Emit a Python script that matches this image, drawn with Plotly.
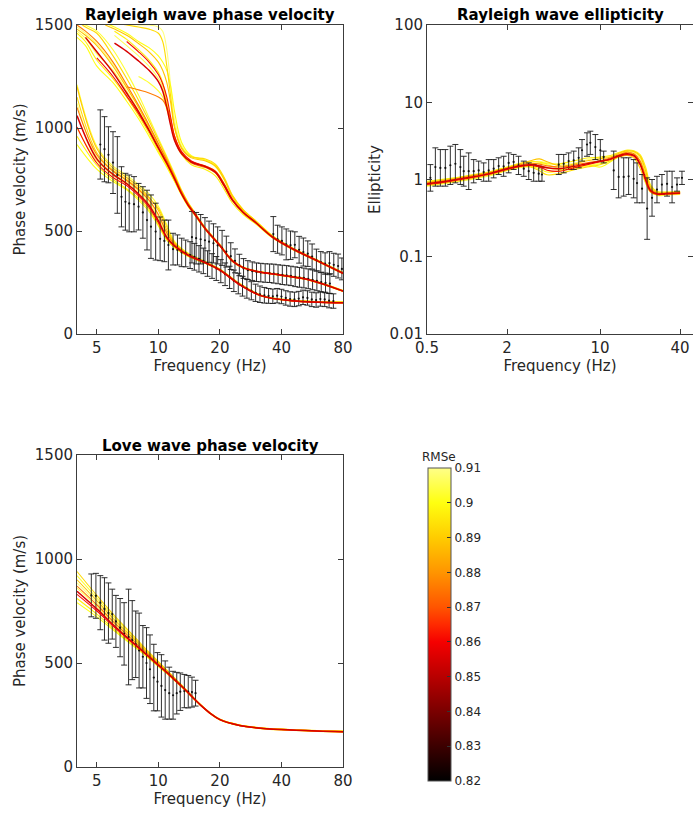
import numpy as np
import plotly.graph_objects as go
from plotly.colors import sample_colorscale

# ---------------------------------------------------------------------------
# Misfit of each inverted model (same order as the curve lists below)
MODEL_RMSE = [0.855, 0.862, 0.876, 0.889, 0.893, 0.897, 0.900, 0.903, 0.906, 0.909]

# Rayleigh fundamental mode: theoretical phase velocity (m/s)
F_FREQ = [4, 5, 6, 7, 8, 9, 10, 11, 12, 14, 17, 20, 25, 32, 45, 80]
F_CURVES = [
    [1060, 850, 775, 730, 680, 625, 550, 470, 428, 383, 346, 311, 240, 185, 162, 152],
    [1005, 830, 760, 720, 670, 615, 540, 465, 425, 380, 345, 308, 238, 184, 161, 151],
    [1100, 870, 790, 745, 700, 650, 580, 490, 435, 385, 348, 312, 242, 186, 163, 153],
    [1200, 900, 805, 760, 715, 665, 600, 505, 440, 388, 350, 314, 244, 187, 164, 154],
    [1150, 880, 795, 750, 705, 660, 610, 520, 445, 390, 349, 313, 241, 185, 162, 155],
    [960, 820, 750, 705, 660, 605, 530, 458, 420, 378, 343, 309, 239, 183, 160, 150],
    [920, 800, 740, 700, 650, 595, 525, 455, 418, 376, 342, 310, 241, 186, 163, 153],
    [1210, 910, 815, 770, 725, 680, 620, 530, 450, 392, 352, 316, 246, 188, 165, 156],
    [1000, 840, 770, 728, 685, 635, 565, 480, 432, 384, 347, 311, 240, 184, 161, 151],
    [1120, 860, 780, 738, 692, 645, 575, 495, 438, 386, 348, 312, 243, 186, 164, 154],
]

# Rayleigh first higher mode
M1_FREQ = [4, 4.4, 5, 6, 7, 8, 9, 10, 11, 12, 13, 14, 15, 17, 20, 23, 26, 30, 40, 55, 80]
M1_CURVES = [
    [None, 1440, 1370, 1270, 1170, 1080, 990, 905, 830, 755, 680, 625, 585, 510, 430, 355, 322, 305, 285, 262, 208],
    [None, None, 1340, 1250, 1155, 1070, 985, 900, 825, 750, 678, 623, 583, 508, 428, 354, 321, 304, 284, 261, 207],
    [1500, 1470, 1420, 1320, 1210, 1110, 1015, 925, 845, 765, 690, 632, 590, 512, 432, 357, 323, 306, 286, 263, 210],
    [1480, 1450, 1400, 1300, 1195, 1100, 1005, 918, 838, 760, 686, 628, 587, 511, 431, 356, 323, 305, 286, 263, 209],
    [1520, 1490, 1460, 1350, 1240, 1135, 1035, 940, 855, 772, 695, 636, 592, 514, 434, 358, 324, 306, 287, 264, 211],
    [1460, 1420, 1330, 1240, 1150, 1060, 975, 890, 818, 745, 675, 620, 580, 506, 427, 353, 320, 303, 283, 260, 206],
    [1440, 1400, 1300, 1220, 1130, 1045, 960, 880, 810, 740, 672, 618, 579, 505, 426, 352, 320, 303, 283, 260, 206],
    [1530, 1500, 1470, 1380, 1270, 1160, 1050, 950, 862, 778, 698, 638, 593, 515, 435, 359, 325, 307, 288, 265, 212],
    [1470, 1435, 1360, 1280, 1180, 1085, 995, 910, 832, 757, 682, 626, 586, 509, 429, 355, 322, 304, 285, 262, 208],
    [1490, 1460, 1410, 1310, 1200, 1105, 1010, 920, 842, 762, 688, 630, 588, 512, 432, 356, 323, 305, 286, 263, 210],
]

# Rayleigh second higher mode
M2_FREQ = [5.5, 6.1, 7, 8, 9, 10, 10.5, 11, 11.5, 12, 13, 14.5, 17, 19, 21, 23, 26, 30, 36, 45, 60, 80]
M2_CURVES = [
    [None, 1412, 1372, 1325, 1280, 1225, 1180, 1100, 1010, 940, 875, 835, 812, 785, 720, 650, 590, 540, 472, 415, 355, 295],
    [None, None, 1420, 1370, 1320, 1260, 1215, 1150, 1050, 960, 885, 840, 815, 790, 728, 655, 592, 541, 473, 416, 356, 296],
    [None, None, 1200, 1185, 1170, 1150, 1135, 1100, 1040, 960, 880, 830, 808, 782, 716, 648, 588, 538, 470, 413, 353, 293],
    [1500, 1480, 1450, 1410, 1370, 1320, 1280, 1220, 1120, 1000, 900, 855, 840, 815, 750, 668, 600, 546, 476, 418, 357, 297],
    [1520, 1510, 1500, 1490, 1480, 1460, 1420, 1300, 1150, 1010, 905, 860, 850, 825, 760, 675, 604, 548, 477, 419, 358, 298],
    [None, 1470, 1430, 1380, 1330, 1270, 1220, 1130, 1030, 945, 870, 822, 798, 768, 702, 636, 580, 534, 468, 411, 352, 292],
    [1510, 1490, 1460, 1420, 1390, 1350, 1320, 1280, 1200, 1080, 930, 865, 845, 820, 755, 672, 603, 549, 479, 420, 359, 299],
    [None, None, None, 1250, 1220, 1180, 1150, 1090, 1020, 950, 880, 838, 815, 792, 730, 658, 594, 542, 474, 416, 356, 296],
    [None, 1450, 1400, 1350, 1300, 1240, 1200, 1120, 1035, 955, 878, 836, 812, 788, 724, 652, 590, 539, 471, 414, 354, 294],
    [1530, 1520, 1510, 1500, 1500, 1490, 1470, 1380, 1200, 1040, 915, 862, 842, 812, 748, 668, 600, 546, 477, 418, 357, 297],
]

# Rayleigh wave ellipticity (H/V)
ELL_FREQ = [0.5, 0.7, 1.0, 1.5, 2.0, 2.5, 3.0, 3.5, 4.0, 5.0, 6.0, 8.0, 10, 12, 14, 16, 18, 20, 22, 24, 27, 32, 40]
ELL_CURVES = [
    [0.88, 0.95, 1.05, 1.20, 1.38, 1.50, 1.55, 1.50, 1.42, 1.38, 1.45, 1.60, 1.72, 1.85, 2.05, 2.15, 2.05, 1.60, 1.00, 0.72, 0.65, 0.66, 0.67],
    [0.86, 0.93, 1.03, 1.18, 1.35, 1.48, 1.52, 1.45, 1.32, 1.28, 1.38, 1.55, 1.70, 1.82, 2.00, 2.10, 2.00, 1.55, 0.98, 0.70, 0.64, 0.65, 0.66],
    [0.90, 0.97, 1.08, 1.23, 1.40, 1.55, 1.62, 1.58, 1.50, 1.45, 1.50, 1.65, 1.75, 1.90, 2.10, 2.25, 2.15, 1.75, 1.10, 0.75, 0.66, 0.67, 0.68],
    [0.92, 0.99, 1.10, 1.25, 1.42, 1.60, 1.75, 1.85, 1.70, 1.50, 1.55, 1.75, 1.85, 1.95, 2.20, 2.35, 2.30, 2.00, 1.30, 0.80, 0.68, 0.68, 0.69],
    [0.84, 0.91, 1.00, 1.15, 1.32, 1.45, 1.45, 1.30, 1.15, 1.20, 1.30, 1.45, 1.55, 1.75, 1.95, 2.05, 1.90, 1.40, 0.90, 0.68, 0.63, 0.64, 0.65],
    [0.95, 1.02, 1.12, 1.27, 1.45, 1.62, 1.70, 1.68, 1.60, 1.60, 1.70, 1.90, 1.95, 2.05, 2.25, 2.40, 2.35, 2.10, 1.45, 0.85, 0.70, 0.69, 0.70],
    [0.87, 0.94, 1.04, 1.19, 1.36, 1.47, 1.48, 1.38, 1.25, 1.30, 1.40, 1.55, 1.45, 1.70, 2.00, 2.15, 2.10, 1.70, 1.05, 0.73, 0.65, 0.66, 0.67],
    [0.90, 0.97, 1.07, 1.22, 1.38, 1.50, 1.58, 1.62, 1.55, 1.40, 1.42, 1.50, 1.60, 1.80, 2.10, 2.30, 2.25, 1.90, 1.20, 0.78, 0.67, 0.67, 0.68],
    [0.82, 0.89, 0.98, 1.12, 1.30, 1.42, 1.50, 1.48, 1.40, 1.35, 1.35, 1.50, 1.65, 1.85, 2.05, 2.20, 2.10, 1.65, 1.00, 0.70, 0.62, 0.63, 0.64],
    [0.93, 1.00, 1.10, 1.26, 1.44, 1.58, 1.68, 1.72, 1.65, 1.55, 1.60, 1.80, 1.90, 2.00, 2.15, 2.30, 2.28, 2.05, 1.38, 0.82, 0.69, 0.69, 0.70],
]

# Love wave fundamental mode
LOVE_FREQ = [4, 5, 6, 7, 8, 9, 10, 11, 12, 13, 14, 15, 16, 18, 20, 25, 30, 40, 60, 80]
LOVE_CURVES = [
    [845, 760, 685, 625, 575, 530, 490, 455, 420, 388, 357, 327, 300, 257, 228, 200, 189, 180, 173, 170],
    [830, 750, 678, 620, 572, 528, 488, 453, 418, 386, 355, 325, 299, 256, 227, 199, 188, 179, 172, 169],
    [870, 780, 700, 638, 585, 538, 496, 459, 423, 390, 359, 328, 301, 258, 229, 201, 190, 181, 174, 171],
    [900, 800, 715, 650, 595, 545, 502, 463, 426, 392, 360, 329, 302, 258, 229, 201, 190, 181, 174, 172],
    [940, 825, 735, 665, 605, 552, 507, 466, 428, 394, 361, 330, 302, 259, 230, 202, 191, 182, 175, 173],
    [810, 735, 668, 612, 566, 524, 485, 451, 417, 385, 354, 325, 299, 256, 227, 199, 188, 179, 172, 168],
    [790, 722, 660, 607, 562, 521, 483, 449, 415, 384, 354, 324, 298, 255, 226, 198, 187, 178, 171, 167],
    [920, 812, 725, 658, 600, 548, 504, 464, 427, 393, 360, 329, 302, 258, 230, 202, 191, 182, 175, 173],
    [860, 772, 694, 632, 580, 534, 493, 457, 421, 389, 358, 327, 300, 257, 228, 200, 189, 180, 173, 170],
    [885, 790, 708, 645, 590, 541, 499, 461, 424, 391, 359, 328, 301, 258, 229, 201, 190, 181, 174, 171],
]

# Observed Rayleigh dispersion (mean and standard deviation, m/s)
RF_OBS_FREQ = [5.2, 5.45, 5.7, 6.0, 6.3, 6.6, 6.9, 7.2, 7.6, 8.0, 8.4, 8.8, 9.2, 9.7, 10.2,
               10.7, 11.2, 11.8, 12.4, 13.0, 13.6, 14.3, 15.0, 15.8, 16.6, 17.4, 18.3, 19.2,
               20.2, 21.2, 22.3, 23.4, 24.6, 25.8, 27.1, 28.5, 29.9, 31.4, 33.0, 34.6, 36.3,
               38.1, 40.0, 42.0, 44.1, 46.3, 48.6, 51.0, 53.6, 56.3, 59.1, 62.0, 65.1, 68.4, 71.8]
RF_OBS_VEL = [920, 897, 870, 832, 772, 666, 642, 634, 630, 618, 590, 553, 521, 497, 462,
              452, 432, 412, 408, 396, 391, 383, 375, 365, 355, 342, 330, 318,
              305, 290, 275, 258, 245, 232, 220, 210, 200, 193, 188, 185, 183,
              186, 182, 175, 170, 168, 172, 178, 175, 168, 165, 170, 168, 162, 160]
RF_OBS_ERR = [168, 158, 136, 150, 186, 146, 138, 138, 134, 113, 125, 145, 154, 138, 106,
              101, 121, 77, 73, 69, 65, 65, 65, 64, 62, 62, 60, 58,
              56, 55, 54, 52, 50, 48, 46, 44, 42, 40, 38, 36, 35,
              35, 35, 35, 35, 35, 35, 35, 35, 35, 35, 35, 35, 35, 35]

R1_OBS_FREQ = [14.6, 15.3, 16.1, 16.9, 17.7, 18.6, 19.5, 20.5, 21.5, 22.6, 23.7, 24.9, 26.1,
               27.4, 28.8, 30.2, 31.7, 33.3, 35.0, 36.7, 38.5, 40.4, 42.4, 44.5, 46.7, 49.0,
               51.5, 54.1, 56.8, 59.6, 62.6, 65.7, 69.0]
R1_OBS_VEL = [470, 465, 460, 455, 448, 440, 430, 418, 400, 378, 355, 335, 318,
              310, 305, 300, 298, 296, 295, 293, 290, 287, 285, 282, 278, 275,
              272, 268, 263, 258, 252, 248, 245]
R1_OBS_ERR = [125, 125, 120, 110, 100, 95, 90, 85, 75, 65, 58, 52, 48,
              46, 45, 45, 45, 45, 45, 46, 46, 47, 47, 47, 48, 48,
              48, 48, 48, 48, 48, 48, 48]

R2_OBS_FREQ = [36.5, 38.3, 40.2, 42.2, 44.3, 46.5, 48.8, 51.2, 53.8, 56.5, 59.3, 62.3,
               65.4, 68.7, 72.1, 75.7, 79.0]
R2_OBS_VEL = [485, 460, 452, 435, 431, 433, 409, 398, 390, 376, 359, 349, 342, 344, 336, 330, 316]
R2_OBS_ERR = [85, 68, 68, 75, 69, 63, 65, 68, 62, 61, 53, 51, 52, 56, 56, 58, 53]

# Observed ellipticity: central value with upper / lower bounds
ELL_OBS_FREQ = [0.53, 0.578, 0.63, 0.687, 0.749, 0.817, 0.891, 0.944, 1.029, 1.122, 1.223,
                1.334, 1.455, 1.586, 1.729, 1.885, 2.056, 2.24, 2.44, 2.67, 2.91, 3.17,
                3.46, 3.66, 4.89, 5.33, 5.81, 6.34, 6.91, 7.32, 7.98, 8.45, 9.22, 10.05,
                10.65, 12.67, 13.8, 15.06, 16.4, 17.9, 18.97, 20.7, 22.6, 24.6, 26.8,
                29.2, 31.9, 34.8, 37.9, 41.3]
ELL_OBS_VAL = [1.05, 1.45, 1.41, 1.41, 1.53, 1.60, 1.45, 1.28, 1.28, 1.28, 1.31,
               1.25, 1.31, 1.38, 1.49, 1.48, 1.64, 1.69, 1.52, 1.38, 1.28, 1.22,
               1.19, 1.16, 1.56, 1.60, 1.73, 1.77, 1.91, 2.39, 2.84, 2.98, 2.63, 2.39,
               1.96, 1.31, 1.08, 1.08, 1.10, 1.02, 0.90, 0.76, 0.42, 0.58, 0.74,
               0.86, 0.88, 0.80, 0.86, 1.05]
ELL_OBS_HI = [1.56, 2.57, 2.44, 2.44, 2.70, 2.84, 2.44, 2.00, 2.21, 1.81, 1.73,
              1.64, 1.81, 1.81, 1.91, 2.00, 2.21, 2.11, 2.00, 1.73, 1.64, 1.56,
              1.49, 1.42, 2.11, 2.11, 2.21, 2.33, 2.57, 3.29, 4.02, 4.22, 3.82, 3.29,
              2.33, 2.33, 2.00, 1.91, 1.91, 1.81, 1.64, 1.16, 1.05, 1.00, 1.10,
              1.16, 1.28, 1.28, 1.05, 1.28]
ELL_OBS_LO = [0.706, 0.82, 0.82, 0.82, 0.862, 0.905, 0.862, 0.82, 0.742, 0.905, 1.0,
              0.95, 0.95, 1.05, 1.16, 1.10, 1.22, 1.35, 1.16, 1.10, 1.0, 0.95,
              0.95, 0.95, 1.16, 1.22, 1.35, 1.35, 1.42, 1.73, 2.00, 2.11, 1.81, 1.73,
              1.64, 0.742, 0.579, 0.609, 0.64, 0.579, 0.499, 0.499, 0.168, 0.335, 0.499,
              0.64, 0.609, 0.499, 0.706, 0.862]

# Observed Love dispersion
LOVE_OBS_FREQ = [4.7, 4.95, 5.2, 5.45, 5.7, 5.95, 6.2, 6.5, 6.8, 7.15, 7.45, 7.75, 8.05, 8.4,
                 8.75, 9.1, 9.5, 9.9, 10.35, 10.8, 11.3, 11.8, 12.3, 12.8, 13.4, 14.0, 14.6, 15.2]
LOVE_OBS_VEL = [825, 823, 790, 760, 740, 735, 700, 670, 640, 625, 610, 590, 560, 530,
                500, 470, 430, 410, 390, 370, 355, 345, 355, 362, 365, 362, 360, 355]
LOVE_OBS_ERR = [103, 108, 130, 150, 145, 120, 125, 140, 150, 230, 190, 160, 180, 150,
                170, 165, 160, 140, 150, 140, 125, 115, 100, 90, 80, 78, 72, 62]

RMSE_MIN, RMSE_MAX = 0.82, 0.91
RMSE_TICKS = [0.82, 0.83, 0.84, 0.85, 0.86, 0.87, 0.88, 0.89, 0.90, 0.91]
VEL_TICKS = [0, 500, 1000, 1500]
FREQ_TICKS = [5, 10, 20, 40, 80]
ELL_FREQ_TICKS = [0.5, 2, 10, 40]
ELL_TICKS = [0.01, 0.1, 1, 10, 100]

# ---------------------------------------------------------------------------
HOT = [
    [0.000, "#000000"],
    [0.111, "#3c0000"],
    [0.222, "#7a0000"],
    [0.333, "#b80000"],
    [0.444, "#f50000"],
    [0.500, "#ff2a00"],
    [0.556, "#ff5500"],
    [0.667, "#ff9500"],
    [0.778, "#ffcc00"],
    [0.889, "#ffff10"],
    [1.000, "#ffff88"],
]

W, H = 693, 813
FONT = "DejaVu Sans"
INK = "#262626"
AXC = "#3c3c3c"


def color_of(r):
    return sample_colorscale(HOT, [(r - RMSE_MIN) / (RMSE_MAX - RMSE_MIN)])[0]


fig = go.Figure()

# draw order: worst fits first, best fit last
order = sorted(range(len(MODEL_RMSE)), key=lambda i: -MODEL_RMSE[i])
poor = [i for i in order if MODEL_RMSE[i] > 0.87]
good = [i for i in order if MODEL_RMSE[i] <= 0.87]


def add_models(idx, freq, curves, xa, ya):
    for i in idx:
        best = MODEL_RMSE[i] == min(MODEL_RMSE)
        fig.add_trace(go.Scatter(
            x=freq, y=curves[i], mode="lines", xaxis=xa, yaxis=ya,
            line=dict(color=color_of(MODEL_RMSE[i]), width=1.5 if best else 1.1,
                      shape="spline", smoothing=1.0),
            showlegend=False, hoverinfo="skip"))


def add_obs(freq, val, xa, ya, err=None, hi=None, lo=None):
    if err is not None:
        ey = dict(type="data", array=err, color="#1a1a1a", thickness=0.9, width=3)
    else:
        ey = dict(type="data", symmetric=False,
                  array=[h - v for h, v in zip(hi, val)],
                  arrayminus=[v - l for v, l in zip(val, lo)],
                  color="#1a1a1a", thickness=0.9, width=3)
    fig.add_trace(go.Scatter(
        x=freq, y=val, mode="markers", xaxis=xa, yaxis=ya,
        marker=dict(size=2.2, color="#111111"), error_y=ey,
        showlegend=False, hoverinfo="skip"))


# Rayleigh phase velocity
for fr, cv in ((F_FREQ, F_CURVES), (M1_FREQ, M1_CURVES), (M2_FREQ, M2_CURVES)):
    add_models(poor, fr, cv, "x", "y")
add_obs(RF_OBS_FREQ, RF_OBS_VEL, "x", "y", err=RF_OBS_ERR)
add_obs(R1_OBS_FREQ, R1_OBS_VEL, "x", "y", err=R1_OBS_ERR)
add_obs(R2_OBS_FREQ, R2_OBS_VEL, "x", "y", err=R2_OBS_ERR)
for fr, cv in ((F_FREQ, F_CURVES), (M1_FREQ, M1_CURVES), (M2_FREQ, M2_CURVES)):
    add_models(good, fr, cv, "x", "y")

# Rayleigh ellipticity
add_models(poor, ELL_FREQ, ELL_CURVES, "x2", "y2")
add_obs(ELL_OBS_FREQ, ELL_OBS_VAL, "x2", "y2", hi=ELL_OBS_HI, lo=ELL_OBS_LO)
add_models(good, ELL_FREQ, ELL_CURVES, "x2", "y2")

# Love phase velocity
add_models(poor, LOVE_FREQ, LOVE_CURVES, "x3", "y3")
add_obs(LOVE_OBS_FREQ, LOVE_OBS_VEL, "x3", "y3", err=LOVE_OBS_ERR)
add_models(good, LOVE_FREQ, LOVE_CURVES, "x3", "y3")

# colour scale for the misfit
fig.add_trace(go.Scatter(
    x=[10], y=[-1000], mode="markers", xaxis="x", yaxis="y",
    marker=dict(size=1, opacity=0, color=[RMSE_MIN], colorscale=HOT,
                cmin=RMSE_MIN, cmax=RMSE_MAX, showscale=True,
                colorbar=dict(
                    thickness=23, thicknessmode="pixels",
                    len=313, lenmode="pixels",
                    x=428 / W, xanchor="left", xpad=0,
                    y=1 - 624.5 / H, yanchor="middle", ypad=0,
                    outlinewidth=1, outlinecolor="#555555",
                    ticks="inside", ticklen=4, tickcolor="#333333",
                    tickvals=RMSE_TICKS, ticktext=[f"{t:g}" for t in RMSE_TICKS],
                    tickfont=dict(family=FONT, size=12, color=INK),
                )),
    showlegend=False, hoverinfo="skip"))


def axis(**kw):
    base = dict(showline=True, linecolor=AXC, linewidth=1, mirror="ticks",
                ticks="inside", ticklen=5, tickcolor=AXC, showgrid=False,
                zeroline=False, tickfont=dict(family=FONT, size=15, color=INK))
    base.update(kw)
    return base


X_LEFT = [77 / W, 343 / W]
X_RIGHT = [427 / W, 1.0]
Y_TOP = [1 - 334 / H, 1 - 25 / H]
Y_BOT = [1 - 767 / H, 1 - 455 / H]
freq_range = [np.log10(4), np.log10(80)]


def atitle(t, s):
    return dict(text=t, font=dict(family=FONT, size=15, color=INK), standoff=s)


def label(text, x, y, size, bold=False):
    return dict(text=f"<b>{text}</b>" if bold else text, x=x / W, y=1 - y / H,
                xref="paper", yref="paper", showarrow=False, xanchor="center",
                yanchor="middle", font=dict(family=FONT, size=size,
                                            color="black" if bold else INK))


fig.update_layout(
    width=W, height=H, margin=dict(l=0, r=0, t=0, b=0, autoexpand=False),
    paper_bgcolor="white", plot_bgcolor="white",
    font=dict(family=FONT, color=INK),
    xaxis=axis(domain=X_LEFT, anchor="y", type="log", range=freq_range,
               tickvals=FREQ_TICKS, ticktext=[str(t) for t in FREQ_TICKS],
               title=atitle("Frequency (Hz)", 4)),
    yaxis=axis(domain=Y_TOP, anchor="x", range=[0, 1500], tickvals=VEL_TICKS,
               title=atitle("Phase velocity (m/s)", 5)),
    xaxis2=axis(domain=X_RIGHT, anchor="y2", type="log",
                range=[np.log10(0.5), np.log10(50)],
                tickvals=ELL_FREQ_TICKS, ticktext=[f"{t:g}" for t in ELL_FREQ_TICKS],
                title=atitle("Frequency (Hz)", 4)),
    yaxis2=axis(domain=Y_TOP, anchor="x2", type="log", range=[-2, 2],
                tickvals=ELL_TICKS, ticktext=[f"{t:g}" for t in ELL_TICKS],
                title=atitle("Ellipticity", 5)),
    xaxis3=axis(domain=X_LEFT, anchor="y3", type="log", range=freq_range,
                tickvals=FREQ_TICKS, ticktext=[str(t) for t in FREQ_TICKS],
                title=atitle("Frequency (Hz)", 4)),
    yaxis3=axis(domain=Y_BOT, anchor="x3", range=[0, 1500], tickvals=VEL_TICKS,
                title=atitle("Phase velocity (m/s)", 5)),
    annotations=[
        label("Rayleigh wave phase velocity", 210, 15, 15, bold=True),
        label("Rayleigh wave ellipticity", 560, 15, 15, bold=True),
        label("Love wave phase velocity", 210, 446, 15, bold=True),
        label("RMSe", 439, 457, 12),
    ],
)

fig.write_html("out.html")
